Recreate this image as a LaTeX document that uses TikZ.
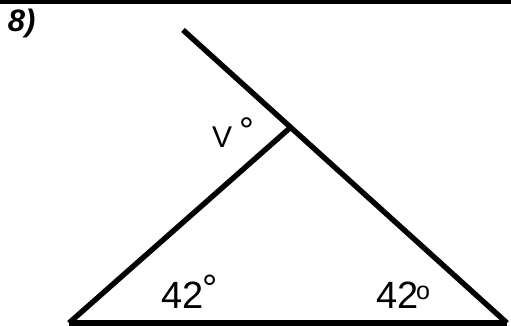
\documentclass[tikz,border=0pt]{standalone}
\usepackage{fontspec}
\setmainfont{Liberation Sans}
\begin{document}
\begin{tikzpicture}[x=1pt,y=1pt,
  edge/.style={line width=5.4pt,line cap=butt},
  lbl/.style={anchor=base west,inner sep=0pt,outer sep=0pt}]
\useasboundingbox (0,0) rectangle (511,326);
% top rule
\coordinate (RL) at (0,323.5);
\coordinate (RR) at (511,323.5);
\draw[line width=4pt] (RL) -- (RR);
% points
\coordinate (A) at (183,296);
\coordinate (V) at (291,199);
\coordinate (L) at (69,3);
\coordinate (R) at (507,3);
\draw[edge] (A) -- (R);
\draw[edge] (L) -- (V);
\draw[edge] (L) -- (R);
% labels
\node[lbl,font=\fontsize{31}{31}\selectfont\bfseries\itshape] (num) at (8,294) {8)};
\node[lbl,font=\fontsize{38}{38}\selectfont] (a1) at (161,17) {42};
\node[lbl,font=\fontsize{38}{38}\selectfont] (d1) at (202,24) {°};
\node[lbl,font=\fontsize{38}{38}\selectfont] (a2) at (376,17) {42};
\node[lbl,font=\fontsize{25}{25}\selectfont] (d2) at (416,26) {o};
\node[lbl,font=\fontsize{30}{30}\selectfont] (v) at (212,178) {V};
\node[lbl,font=\fontsize{37}{37}\selectfont] (d3) at (239,182.5) {°};
\end{tikzpicture}
\end{document}
